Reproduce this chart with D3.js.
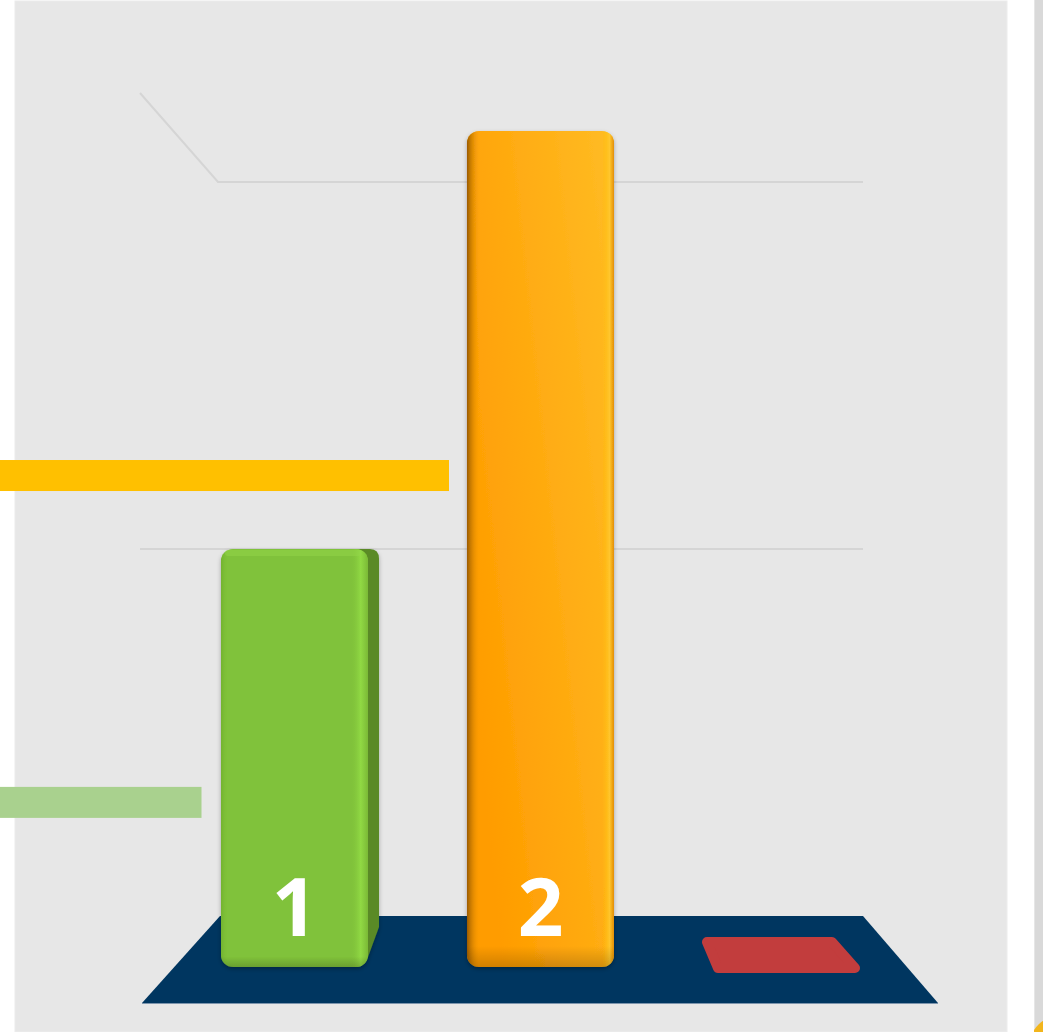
<!DOCTYPE html>
<html><head><meta charset="utf-8">
<script src="https://cdn.jsdelivr.net/npm/d3@7"></script>
<style>html,body{margin:0;padding:0;background:#fff;overflow:hidden}svg{display:block}</style>
</head><body>
<svg id="chart" width="1043" height="1032"></svg>
<script>
// ---- data ----
const categories = ["A", "B", "C"];
const values = [1, 2, 0];
const barColors = ["#80c23a", "#ffa500", "#c23d3d"];
const gridValues = [1, 2];
const markerValues = [1.177, 0.395];    // decorative left strips (value level)
const markerColors = ["#ffc000", "#a9d18e"];

const svg = d3.select("#chart");
const W = 1043, H = 1032;

// panel
svg.append("rect").attr("x", 15).attr("y", 1).attr("width", 992).attr("height", 1031)
  .attr("fill", "#e7e7e7").attr("stroke", "#ececec").attr("stroke-width", 1);
// right neighbouring panel
svg.append("rect").attr("x", 1034).attr("y", 0).attr("width", 9).attr("height", H).attr("fill", "#d9d9d9");
svg.append("line").attr("x1", 1034.5).attr("x2", 1034.5).attr("y1", 0).attr("y2", H).attr("stroke", "#e6e6e6");
const defs = svg.append("defs");
const clip = defs.append("clipPath").attr("id", "rclip");
clip.append("rect").attr("x", 1034).attr("y", 0).attr("width", 9).attr("height", H);
svg.append("circle").attr("cx", 1064).attr("cy", 1050).attr("r", 36).attr("fill", "#f2b51c").attr("clip-path", "url(#rclip)");

// scales
const x = d3.scaleBand().domain(categories).range([221, 860]).paddingInner(0.4024).paddingOuter(0);
const bw = x.bandwidth();
const yFront = d3.scaleLinear().domain([0, 2]).range([967, 131]);
const yBack = d3.scaleLinear().domain([0, 2]).range([916, 182]);

// gradients
const og = defs.append("linearGradient").attr("id", "orangeG").attr("x1", "0").attr("y1", "0.6").attr("x2", "1").attr("y2", "0");
og.append("stop").attr("offset", "0").attr("stop-color", "#ff9c00");
og.append("stop").attr("offset", "1").attr("stop-color", "#ffbc24");
const oe = defs.append("linearGradient").attr("id", "orangeEdge").attr("x1", "0").attr("x2", "1");
oe.append("stop").attr("offset", "0").attr("stop-color", "#8f5400").attr("stop-opacity", 0.9);
oe.append("stop").attr("offset", "0.09").attr("stop-color", "#ff9f00").attr("stop-opacity", 0);
oe.append("stop").attr("offset", "0.92").attr("stop-color", "#ffc000").attr("stop-opacity", 0);
oe.append("stop").attr("offset", "0.97").attr("stop-color", "#ffc830").attr("stop-opacity", 0.9);
oe.append("stop").attr("offset", "1").attr("stop-color", "#e08a00").attr("stop-opacity", 0.9);
const gg = defs.append("linearGradient").attr("id", "greenEdge").attr("x1", "0").attr("x2", "1");
gg.append("stop").attr("offset", "0").attr("stop-color", "#6fae2c").attr("stop-opacity", 0.8);
gg.append("stop").attr("offset", "0.05").attr("stop-color", "#80c23a").attr("stop-opacity", 0);
gg.append("stop").attr("offset", "0.88").attr("stop-color", "#80c23a").attr("stop-opacity", 0);
gg.append("stop").attr("offset", "0.95").attr("stop-color", "#93dc45").attr("stop-opacity", 0.9);
gg.append("stop").attr("offset", "1").attr("stop-color", "#7ab936").attr("stop-opacity", 0.9);
const gt = defs.append("linearGradient").attr("id", "topEdge").attr("x1", "0").attr("y1", "0").attr("x2", "0").attr("y2", "1");
gt.append("stop").attr("offset", "0").attr("stop-color", "#000").attr("stop-opacity", 0);
gt.append("stop").attr("offset", "0.975").attr("stop-color", "#000").attr("stop-opacity", 0);
gt.append("stop").attr("offset", "1").attr("stop-color", "#000").attr("stop-opacity", 0.18);
const sh = defs.append("filter").attr("id", "shadow").attr("x", "-10%").attr("y", "-5%").attr("width", "120%").attr("height", "110%");
sh.append("feDropShadow").attr("dx", 0).attr("dy", 2).attr("stdDeviation", 2).attr("flood-color", "#000").attr("flood-opacity", 0.3);

// gridlines (back wall)
const g1 = yBack(gridValues[1]);
svg.append("path")
  .attr("d", `M140,${g1 - 89} L218,${g1} L863,${g1}`)
  .attr("fill", "none").attr("stroke", "#d5d5d5").attr("stroke-width", 2);
svg.append("line").attr("x1", 140).attr("x2", 863)
  .attr("y1", yBack(gridValues[0])).attr("y2", yBack(gridValues[0]))
  .attr("stroke", "#d5d5d5").attr("stroke-width", 2);

// floor
const fy0 = yBack(0), fy1 = 1003;
svg.append("path").attr("d", `M220,${fy0} L863,${fy0} L938,${fy1} L142,${fy1} Z`).attr("fill", "#003660");
svg.append("line").attr("x1", 142).attr("x2", 938).attr("y1", fy1 + 0.5).attr("y2", fy1 + 0.5).attr("stroke", "#7d95ad").attr("stroke-width", 1);

// decorative left markers
svg.selectAll("rect.marker").data(markerValues).join("rect").attr("class", "marker")
  .attr("x", 0).attr("y", d => yFront(d) - 15).attr("height", 31)
  .attr("width", (d, i) => i === 0 ? 449 : 201.5)
  .attr("fill", (d, i) => markerColors[i]);

// bars
const data = categories.map((c, i) => ({ c, v: values[i], color: barColors[i], i }));
const r = 12;
data.forEach(d => {
  const x0 = x(d.c);
  if (d.v === 0) {
    // flat slab on floor
    const yb = yFront(0) + 3, yt = yb - 31;
    svg.append("path")
      .attr("d", `M${x0 + 5},${yb - 2} L${x0 + bw - 5},${yb - 2} L${x0 + bw - 28},${yt + 3} L${x0 - 6},${yt + 3} Z`)
      .attr("fill", d.color).attr("stroke", d.color).attr("stroke-width", 10).attr("stroke-linejoin", "round");
    return;
  }
  const yt = yFront(d.v), yb = yFront(0);
  const g = svg.append("g").attr("filter", "url(#shadow)");
  if (d.i === 0) {
    // side face
    g.append("path")
      .attr("d", `M${x0 + bw - 12},${yt} L${x0 + bw + 2},${yt} Q${x0 + bw + 11},${yt} ${x0 + bw + 11},${yt + 10} L${x0 + bw + 11},${yb - 40} L${x0 + bw},${yb - 10} L${x0 + bw - 12},${yb} Z`)
      .attr("fill", "#5a8a26");
    g.append("rect").attr("x", x0).attr("y", yt).attr("width", bw).attr("height", yb - yt)
      .attr("rx", r).attr("fill", d.color);
    g.append("rect").attr("x", x0).attr("y", yt).attr("width", bw).attr("height", yb - yt)
      .attr("rx", r).attr("fill", "url(#greenEdge)");
    g.append("rect").attr("x", x0 + 4).attr("y", yt + 1).attr("width", bw - 10).attr("height", 6)
      .attr("rx", 3).attr("fill", "#93d64a").attr("opacity", 0.5);
  } else {
    g.append("rect").attr("x", x0).attr("y", yt).attr("width", bw).attr("height", yb - yt)
      .attr("rx", r).attr("fill", "url(#orangeG)");
    g.append("rect").attr("x", x0).attr("y", yt).attr("width", bw).attr("height", yb - yt)
      .attr("rx", r).attr("fill", "url(#orangeEdge)");
  }
  g.append("rect").attr("x", x0).attr("y", yt).attr("width", bw).attr("height", yb - yt)
    .attr("rx", r).attr("fill", "url(#topEdge)");
});

// value labels
svg.selectAll("text.val").data(data.filter(d => d.v > 0)).join("text").attr("class", "val")
  .attr("x", d => x(d.c) + bw / 2).attr("y", 936)
  .attr("text-anchor", "middle")
  .attr("font-family", "'Open Sans', sans-serif").attr("font-weight", 700)
  .attr("font-size", 80).attr("fill", "#fff")
  .text(d => d.v);
</script>
</body></html>
